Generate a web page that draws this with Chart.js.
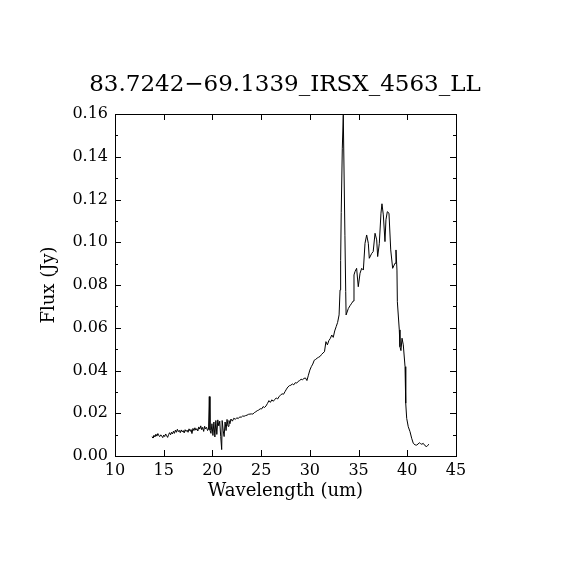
<!DOCTYPE html>
<html>
<head>
<meta charset="utf-8">
<script src="https://cdn.jsdelivr.net/npm/chart.js@4"></script>
<style>
  html, body { margin: 0; padding: 0; background: #fff; }
</style>
</head>
<body>
<canvas id="chart1" width="570" height="570"></canvas>
<script>
// CHART DATA
// -----------------------------
let chartTitle = '83.7242\u221269.1339_IRSX_4563_LL';

// wavelength (um)
let wavelength = [
  13.8, 13.9, 14.0, 14.1, 14.2, 14.3, 14.4, 14.5, 14.6, 14.7,
  14.8, 14.9, 15.0, 15.1, 15.2, 15.3, 15.4, 15.5, 15.6, 15.7,
  15.8, 15.9, 16.0, 16.1, 16.2, 16.3, 16.4, 16.5, 16.6, 16.7,
  16.8, 16.9, 17.0, 17.1, 17.2, 17.3, 17.4, 17.5, 17.6, 17.7,
  17.8, 17.9, 18.0, 18.1, 18.2, 18.3, 18.4, 18.5, 18.6, 18.7,
  18.8, 18.9, 19.0, 19.1, 19.2, 19.3, 19.4, 19.5, 19.6, 19.68,
  19.75, 19.85, 19.95, 20.05, 20.15, 20.25, 20.35, 20.45, 20.55, 20.65,
  20.75, 20.85, 20.95, 21.0, 21.1, 21.2, 21.3, 21.4, 21.5, 21.6,
  21.7, 21.8, 21.9, 22.05, 22.2, 22.35, 22.5, 22.65, 22.8, 22.95,
  23.1, 23.25, 23.4, 23.55, 23.7, 23.85, 24.0, 24.15, 24.3, 24.45,
  24.6, 24.75, 24.9, 25.05, 25.2, 25.35, 25.5, 25.65, 25.8, 25.95,
  26.1, 26.25, 26.4, 26.55, 26.7, 26.85, 27.0, 27.15, 27.3, 27.45,
  27.6, 27.75, 27.9, 28.05, 28.2, 28.35, 28.5, 28.65, 28.8, 28.95,
  29.1, 29.25, 29.4, 29.55, 29.7, 29.85, 30.0, 30.15, 30.3, 30.45,
  30.6, 30.75, 30.9, 31.05, 31.2, 31.35, 31.5, 31.65, 31.8, 31.95,
  32.1, 32.25, 32.4, 32.55, 32.7, 32.85, 33.0, 33.1, 33.16, 33.22,
  33.33, 33.43, 33.6, 33.68, 33.72, 33.95, 34.15, 34.3, 34.45, 34.53,
  34.63, 34.8, 34.97, 35.15, 35.32, 35.49, 35.66, 35.83, 36.0, 36.1,
  36.35, 36.5, 36.69, 36.86, 36.96, 37.13, 37.3, 37.4, 37.54, 37.71,
  37.81, 37.95, 38.12, 38.3, 38.5, 38.74, 38.84, 38.94, 38.98, 39.18,
  39.25, 39.35, 39.46, 39.59, 39.77, 39.84, 39.94, 40.1, 40.28, 40.45,
  40.62, 40.8, 40.97, 41.1, 41.24, 41.36, 41.48, 41.64, 41.82, 41.99,
  42.1, 42.23
];

// flux (Jy)
let flux = [
  0.0090, 0.0084, 0.0097, 0.0089, 0.0102, 0.0093, 0.0105, 0.0095, 0.0091, 0.0099,
  0.0093, 0.0086, 0.0098, 0.0091, 0.0103, 0.0095, 0.0087, 0.0100, 0.0109, 0.0099,
  0.0111, 0.0103, 0.0116, 0.0106, 0.0121, 0.0111, 0.0125, 0.0114, 0.0120, 0.0109,
  0.0122, 0.0113, 0.0119, 0.0108, 0.0123, 0.0115, 0.0121, 0.0111, 0.0127, 0.0117,
  0.0124, 0.0105, 0.0129, 0.0119, 0.0132, 0.0121, 0.0128, 0.0117, 0.0136, 0.0126,
  0.0141, 0.0123, 0.0134, 0.0115, 0.0139, 0.0127, 0.0134, 0.0119, 0.0126, 0.0278,
  0.0121, 0.0106, 0.0151, 0.0096, 0.0159, 0.0089, 0.0166, 0.0101, 0.0169, 0.0141,
  0.0163, 0.0091, 0.0030, 0.0166, 0.0121, 0.0091, 0.0159, 0.0119, 0.0171, 0.0139,
  0.0166, 0.0151, 0.0173, 0.0163, 0.0177, 0.0171, 0.0179, 0.0175, 0.0183, 0.0181,
  0.0187, 0.0186, 0.0189, 0.0191, 0.0195, 0.0196, 0.0197, 0.0196, 0.0203, 0.0207,
  0.0212, 0.0215, 0.0221, 0.0220, 0.0231, 0.0227, 0.0234, 0.0246, 0.0259, 0.0251,
  0.0263, 0.0256, 0.0265, 0.0271, 0.0267, 0.0279, 0.0285, 0.0291, 0.0289, 0.0301,
  0.0313, 0.0323, 0.0329, 0.0331, 0.0337, 0.0333, 0.0343, 0.0341, 0.0349, 0.0353,
  0.0359, 0.0357, 0.0363, 0.0365, 0.0353, 0.0378, 0.0402, 0.0418, 0.0430, 0.0448,
  0.0452, 0.0458, 0.0462, 0.0466, 0.0475, 0.0482, 0.0488, 0.0535, 0.0520, 0.0540,
  0.0550, 0.0566, 0.0555, 0.0585, 0.0605, 0.0625, 0.0660, 0.0777, 0.0915, 0.1140,
  0.1440, 0.1595, 0.1030, 0.0770, 0.0660, 0.0690, 0.0705, 0.0715, 0.0725, 0.0847,
  0.0862, 0.0878, 0.0792, 0.0855, 0.0878, 0.0870, 0.0995, 0.1034, 0.0995, 0.0925,
  0.0948, 0.0956, 0.1042, 0.1011, 0.0933, 0.0995, 0.1136, 0.1180, 0.1128, 0.1003,
  0.1105, 0.1143, 0.1136, 0.0964, 0.0878, 0.0902, 0.0964, 0.0870, 0.0722, 0.0590,
  0.0511, 0.0493, 0.0551, 0.0520, 0.0418, 0.0247, 0.0176, 0.0137, 0.0114, 0.0083,
  0.0059, 0.0052, 0.0051, 0.0056, 0.0062, 0.0058, 0.0055, 0.0059, 0.0048, 0.0044,
  0.0050, 0.0055
];

// tick values
let xTicks = [10, 15, 20, 25, 30, 35, 40, 45];
let yTicks = [0, 0.02, 0.04, 0.06, 0.08, 0.10, 0.12, 0.14, 0.16];

// CHART CONFIG
// -----------------------------
Chart.defaults.font.family = 'DejaVu Serif';
Chart.defaults.color = '#000';

let points = wavelength.map((w, i) => ({ x: w, y: flux[i] }));

// box round the plot with inward ticks, like the original
let framePlugin = {
  id: 'frame',
  afterDatasetsDraw(chart) {
    let { ctx, chartArea: a, scales } = chart;
    let x = scales.x, y = scales.y;
    ctx.save();
    ctx.strokeStyle = '#000';
    ctx.lineWidth = 1;
    ctx.strokeRect(a.left + 0.5, a.top + 0.5, a.right - a.left, a.bottom - a.top);
    ctx.beginPath();
    xTicks.forEach(v => {
      let px = Math.round(x.getPixelForValue(v)) + 0.5;
      ctx.moveTo(px, a.bottom); ctx.lineTo(px, a.bottom - 6);
      ctx.moveTo(px, a.top); ctx.lineTo(px, a.top + 6);
    });
    yTicks.forEach((v, i) => {
      let py = Math.round(y.getPixelForValue(v)) + 0.5;
      ctx.moveTo(a.left, py); ctx.lineTo(a.left + 6, py);
      ctx.moveTo(a.right, py); ctx.lineTo(a.right - 6, py);
      if (i < yTicks.length - 1) {
        let pm = Math.round(y.getPixelForValue((v + yTicks[i + 1]) / 2)) + 0.5;
        ctx.moveTo(a.left, pm); ctx.lineTo(a.left + 3, pm);
        ctx.moveTo(a.right, pm); ctx.lineTo(a.right - 3, pm);
      }
    });
    ctx.stroke();
    ctx.restore();
  }
};

let chart1Data = {
  type: 'line',
  data: {
    datasets: [{
      data: points,
      borderColor: '#000',
      borderWidth: 1,
      pointRadius: 0,
      tension: 0,
      fill: false
    }]
  },
  options: {
    responsive: false,
    animation: false,
    devicePixelRatio: 1,
    layout: {
      padding: 0
    },
    plugins: {
      legend: { display: false },
      tooltip: { enabled: false },
      title: {
        display: true,
        text: chartTitle,
        color: '#000',
        font: { size: 23, weight: 'normal' },
        padding: { top: 71, bottom: 15.4 }
      }
    },
    scales: {
      x: {
        type: 'linear',
        min: 10,
        max: 45,
        grid: { display: false, drawTicks: false, tickLength: 0 },
        border: { display: false },
        afterBuildTicks: s => { s.ticks = xTicks.map(v => ({ value: v })); },
        afterFit: s => { s.height = 114; },
        ticks: {
          autoSkip: false,
          maxRotation: 0,
          padding: 5,
          font: { size: 16 },
          color: '#000'
        },
        title: {
          display: true,
          text: 'Wavelength (um)',
          color: '#000',
          font: { size: 18 },
          padding: { top: 0, bottom: 68 }
        }
      },
      y: {
        min: 0,
        max: 0.16,
        grid: { display: false, drawTicks: false, tickLength: 0 },
        border: { display: false },
        afterBuildTicks: s => { s.ticks = yTicks.map(v => ({ value: v })); },
        afterFit: s => { s.width = 115; },
        ticks: {
          padding: 7,
          font: { size: 16 },
          color: '#000',
          callback: v => v.toFixed(2)
        },
        title: {
          display: true,
          text: 'Flux (Jy)',
          color: '#000',
          font: { size: 18 },
          padding: { top: 39, bottom: 0 }
        }
      },
      // empty right-hand margin so the title centres on the whole page
      y2: {
        position: 'right',
        min: 0,
        max: 0.16,
        grid: { display: false },
        border: { display: false },
        ticks: { display: false },
        afterFit: s => { s.width = 114; }
      }
    }
  },
  plugins: [framePlugin]
};

// RENDER CHART
// -----------------------------
new Chart(document.getElementById('chart1'), chart1Data);
</script>
</body>
</html>
